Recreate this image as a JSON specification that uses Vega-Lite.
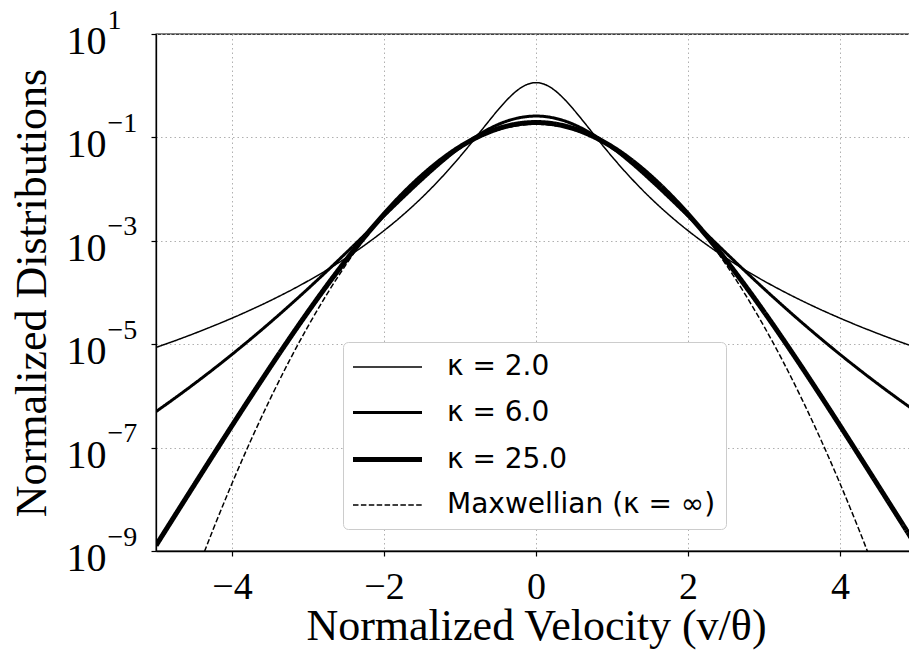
{
  "$schema": "https://vega.github.io/schema/vega-lite/v6.json",
  "width": 754,
  "height": 517,
  "autosize": {"type": "none"},
  "padding": {"left": 156, "top": 34, "right": -1, "bottom": 109},
  "background": "white",
  "config": {"view": {"stroke": "black", "strokeWidth": 1.3}, "font": "Liberation Serif"},
  "data": {"values": [
    {"v": -5, "k2": 8.6417e-6, "k6": 4.9735e-7, "k25": 1.2778e-9, "max": 2.494e-12},
    {"v": -4.75, "k2": 1.1681e-5, "k6": 9.096e-7, "k25": 4.8897e-9, "max": 2.855e-11},
    {"v": -4.5, "k2": 1.6039e-5, "k6": 1.6998e-6, "k25": 1.8634e-8, "max": 2.883e-10},
    {"v": -4.25, "k2": 2.2403e-5, "k6": 3.2486e-6, "k25": 7.0713e-8, "max": 2.569e-9},
    {"v": -4, "k2": 3.1898e-5, "k6": 6.3554e-6, "k25": 2.656e-7, "max": 2.0209e-8},
    {"v": -3.75, "k2": 4.6399e-5, "k6": 1.2734e-5, "k25": 9.8203e-7, "max": 1.4028e-7},
    {"v": -3.5, "k2": 6.9133e-5, "k6": 2.6141e-5, "k25": 3.5528e-6, "max": 8.593e-7},
    {"v": -3.25, "k2": 1.0584e-4, "k6": 5.4973e-5, "k25": 1.249e-5, "max": 4.645e-6},
    {"v": -3, "k2": 1.6713e-4, "k6": 1.1833e-4, "k25": 4.2343e-5, "max": 2.2162e-5},
    {"v": -2.75, "k2": 2.7341e-4, "k6": 2.6023e-4, "k25": 1.3728e-4, "max": 9.331e-5},
    {"v": -2.5, "k2": 4.6591e-4, "k6": 5.8283e-4, "k25": 4.2178e-4, "max": 3.4667e-4},
    {"v": -2.25, "k2": 8.3253e-4, "k6": 0.0013226, "k25": 0.0012163, "max": 0.0011367},
    {"v": -2, "k2": 0.0015724, "k6": 0.0030164, "k25": 0.003259, "max": 0.0032891},
    {"v": -1.75, "k2": 0.0031693, "k6": 0.0068354, "k25": 0.0080306, "max": 0.0083991},
    {"v": -1.5, "k2": 0.00689, "k6": 0.015146, "k25": 0.018011, "max": 0.018928},
    {"v": -1.25, "k2": 0.016332, "k6": 0.032126, "k25": 0.036401, "max": 0.037642},
    {"v": -1, "k2": 0.042456, "k6": 0.063515, "k25": 0.065679, "max": 0.066064},
    {"v": -0.875, "k2": 0.070681},
    {"v": -0.75, "k2": 0.11946, "k6": 0.11347, "k25": 0.10493, "max": 0.10232},
    {"v": -0.625, "k2": 0.20283},
    {"v": -0.5, "k2": 0.33965, "k6": 0.17725, "k25": 0.1474, "max": 0.13986},
    {"v": -0.375, "k2": 0.545},
    {"v": -0.25, "k2": 0.8051, "k6": 0.23496, "k25": 0.18113, "max": 0.1687},
    {"v": -0.125, "k2": 1.0452},
    {"v": 0, "k2": 1.1463, "k6": 0.25878, "k25": 0.19408, "max": 0.17958},
    {"v": 0.125, "k2": 1.0452},
    {"v": 0.25, "k2": 0.8051, "k6": 0.23496, "k25": 0.18113, "max": 0.1687},
    {"v": 0.375, "k2": 0.545},
    {"v": 0.5, "k2": 0.33965, "k6": 0.17725, "k25": 0.1474, "max": 0.13986},
    {"v": 0.625, "k2": 0.20283},
    {"v": 0.75, "k2": 0.11946, "k6": 0.11347, "k25": 0.10493, "max": 0.10232},
    {"v": 0.875, "k2": 0.070681},
    {"v": 1, "k2": 0.042456, "k6": 0.063515, "k25": 0.065679, "max": 0.066064},
    {"v": 1.25, "k2": 0.016332, "k6": 0.032126, "k25": 0.036401, "max": 0.037642},
    {"v": 1.5, "k2": 0.00689, "k6": 0.015146, "k25": 0.018011, "max": 0.018928},
    {"v": 1.75, "k2": 0.0031693, "k6": 0.0068354, "k25": 0.0080306, "max": 0.0083991},
    {"v": 2, "k2": 0.0015724, "k6": 0.0030164, "k25": 0.003259, "max": 0.0032891},
    {"v": 2.25, "k2": 8.3253e-4, "k6": 0.0013226, "k25": 0.0012163, "max": 0.0011367},
    {"v": 2.5, "k2": 4.6591e-4, "k6": 5.8283e-4, "k25": 4.2178e-4, "max": 3.4667e-4},
    {"v": 2.75, "k2": 2.7341e-4, "k6": 2.6023e-4, "k25": 1.3728e-4, "max": 9.331e-5},
    {"v": 3, "k2": 1.6713e-4, "k6": 1.1833e-4, "k25": 4.2343e-5, "max": 2.2162e-5},
    {"v": 3.25, "k2": 1.0584e-4, "k6": 5.4973e-5, "k25": 1.249e-5, "max": 4.645e-6},
    {"v": 3.5, "k2": 6.9133e-5, "k6": 2.6141e-5, "k25": 3.5528e-6, "max": 8.593e-7},
    {"v": 3.75, "k2": 4.6399e-5, "k6": 1.2734e-5, "k25": 9.8203e-7, "max": 1.4028e-7},
    {"v": 4, "k2": 3.1898e-5, "k6": 6.3554e-6, "k25": 2.656e-7, "max": 2.0209e-8},
    {"v": 4.25, "k2": 2.2403e-5, "k6": 3.2486e-6, "k25": 7.0713e-8, "max": 2.569e-9},
    {"v": 4.5, "k2": 1.6039e-5, "k6": 1.6998e-6, "k25": 1.8634e-8, "max": 2.883e-10},
    {"v": 4.75, "k2": 1.1681e-5, "k6": 9.096e-7, "k25": 4.8897e-9, "max": 2.855e-11},
    {"v": 5, "k2": 8.6417e-6, "k6": 4.9735e-7, "k25": 1.2778e-9, "max": 2.494e-12}
  ]},
  "transform": [
    {"fold": ["k2", "k6", "k25", "max"], "as": ["series", "f"]},
    {"filter": "datum.f != null"}
  ],
  "layer": [
    {
      "mark": {"type": "line", "clip": true, "interpolate": "monotone", "color": "black"},
      "encoding": {
        "x": {
          "field": "v", "type": "quantitative",
          "scale": {"domain": [-5, 4.921], "nice": false, "zero": false},
          "axis": {
            "values": [-4, -2, 0, 2, 4],
            "labelExpr": "replace(format(datum.value, 'd'), '-', '−')",
            "labelFont": "Liberation Serif", "labelFontSize": 38, "labelColor": "black",
            "labelBaseline": "alphabetic", "labelPadding": 42, "labelFlush": false, "labelOverlap": false,
            "tickSize": 5, "tickColor": "black", "tickWidth": 1.2,
            "domainColor": "black", "domainWidth": 1.3,
            "grid": true, "gridColor": "#b0b0b0", "gridDash": [1.5, 3], "gridWidth": 1,
            "title": "Normalized Velocity (v/θ)",
            "titleFont": "Liberation Serif", "titleFontSize": 44, "titleFontWeight": "normal", "titleColor": "black",
            "titleX": 380, "titleY": 88, "titleAlign": "center", "titleBaseline": "alphabetic"
          }
        },
        "y": {
          "field": "f", "type": "quantitative",
          "scale": {"type": "log", "domain": [1e-9, 10], "nice": false},
          "axis": {
            "orient": "left",
            "values": [1e-9, 1e-7, 1e-5, 1e-3, 1e-1, 10],
            "labelExpr": "datum.value > 5 ? '\u200210' : '10'",
            "labelFont": "Liberation Serif", "labelFontSize": 40, "labelColor": "black",
            "labelAlign": "left", "labelBaseline": "alphabetic", "labelPadding": 85, "labelOffset": 19.5,
            "labelFlush": false, "labelOverlap": false,
            "tickSize": 5, "tickColor": "black", "tickWidth": 1.2,
            "domainColor": "black", "domainWidth": 1.3,
            "grid": true, "gridColor": "#b0b0b0", "gridDash": [1.5, 3], "gridWidth": 1,
            "title": "Normalized Distributions",
            "titleFont": "Liberation Serif", "titleFontSize": 44, "titleFontWeight": "normal", "titleColor": "black",
            "titleAngle": -90, "titleX": -124, "titleY": 258.5, "titleAlign": "center", "titleBaseline": "middle"
          }
        },
        "strokeWidth": {
          "field": "series", "type": "nominal",
          "scale": {"type": "ordinal", "domain": ["k2", "k6", "k25", "max"], "range": [1.5, 3, 5, 1.5]},
          "legend": {
            "title": null, "orient": "none", "legendX": 187, "legendY": 308, "direction": "vertical",
            "symbolType": "M-2.5,0H2.5", "symbolSize": 762, "symbolStrokeColor": "black", "symbolOffset": 18,
            "labelExpr": "datum.value == 'k2' ? 'κ = 2.0' : datum.value == 'k6' ? 'κ = 6.0' : datum.value == 'k25' ? 'κ = 25.0' : 'Maxwellian (κ = ∞)'",
            "labelFont": "DejaVu Sans", "labelFontSize": 28, "labelColor": "black", "labelOffset": 43, "labelLimit": 400,
            "padding": 10, "strokeColor": "#cccccc", "fillColor": "white", "cornerRadius": 5, "rowPadding": 16
          }
        },
        "strokeDash": {
          "field": "series", "type": "nominal",
          "scale": {"domain": ["k2", "k6", "k25", "max"], "range": [[1, 0], [1, 0], [1, 0], [5.5, 2.4]]},
          "legend": {
            "title": null, "orient": "none", "legendX": 187, "legendY": 308, "direction": "vertical",
            "symbolType": "M-2.5,0H2.5", "symbolSize": 762, "symbolStrokeColor": "black", "symbolOffset": 18,
            "labelExpr": "datum.value == 'k2' ? 'κ = 2.0' : datum.value == 'k6' ? 'κ = 6.0' : datum.value == 'k25' ? 'κ = 25.0' : 'Maxwellian (κ = ∞)'",
            "labelFont": "DejaVu Sans", "labelFontSize": 28, "labelColor": "black", "labelOffset": 43, "labelLimit": 400,
            "padding": 10, "strokeColor": "#cccccc", "fillColor": "white", "cornerRadius": 5, "rowPadding": 16
          }
        },
        "order": {"field": "v", "type": "quantitative"}
      }
    },
    {
      "mark": {"type": "point", "opacity": 0},
      "encoding": {
        "y": {
          "field": "f", "type": "quantitative",
          "scale": {"type": "log", "domain": [1e-9, 10], "nice": false},
          "axis": {
            "orient": "left",
            "values": [1e-9, 1e-7, 1e-5, 1e-3, 1e-1, 10],
            "labelExpr": "datum.value > 5 ? '\u20021' : datum.value > 0.05 ? '−1' : datum.value > 5e-4 ? '−3' : datum.value > 5e-6 ? '−5' : datum.value > 5e-8 ? '−7' : '−9'",
            "labelFont": "Liberation Serif", "labelFontSize": 28, "labelColor": "black",
            "labelAlign": "left", "labelBaseline": "alphabetic", "labelPadding": 49, "labelOffset": -6,
            "labelFlush": false, "labelOverlap": false,
            "ticks": false, "tickSize": 0, "domain": false, "grid": false, "title": null
          }
        }
      }
    }
  ],
  "resolve": {"axis": {"y": "independent"}}
}
